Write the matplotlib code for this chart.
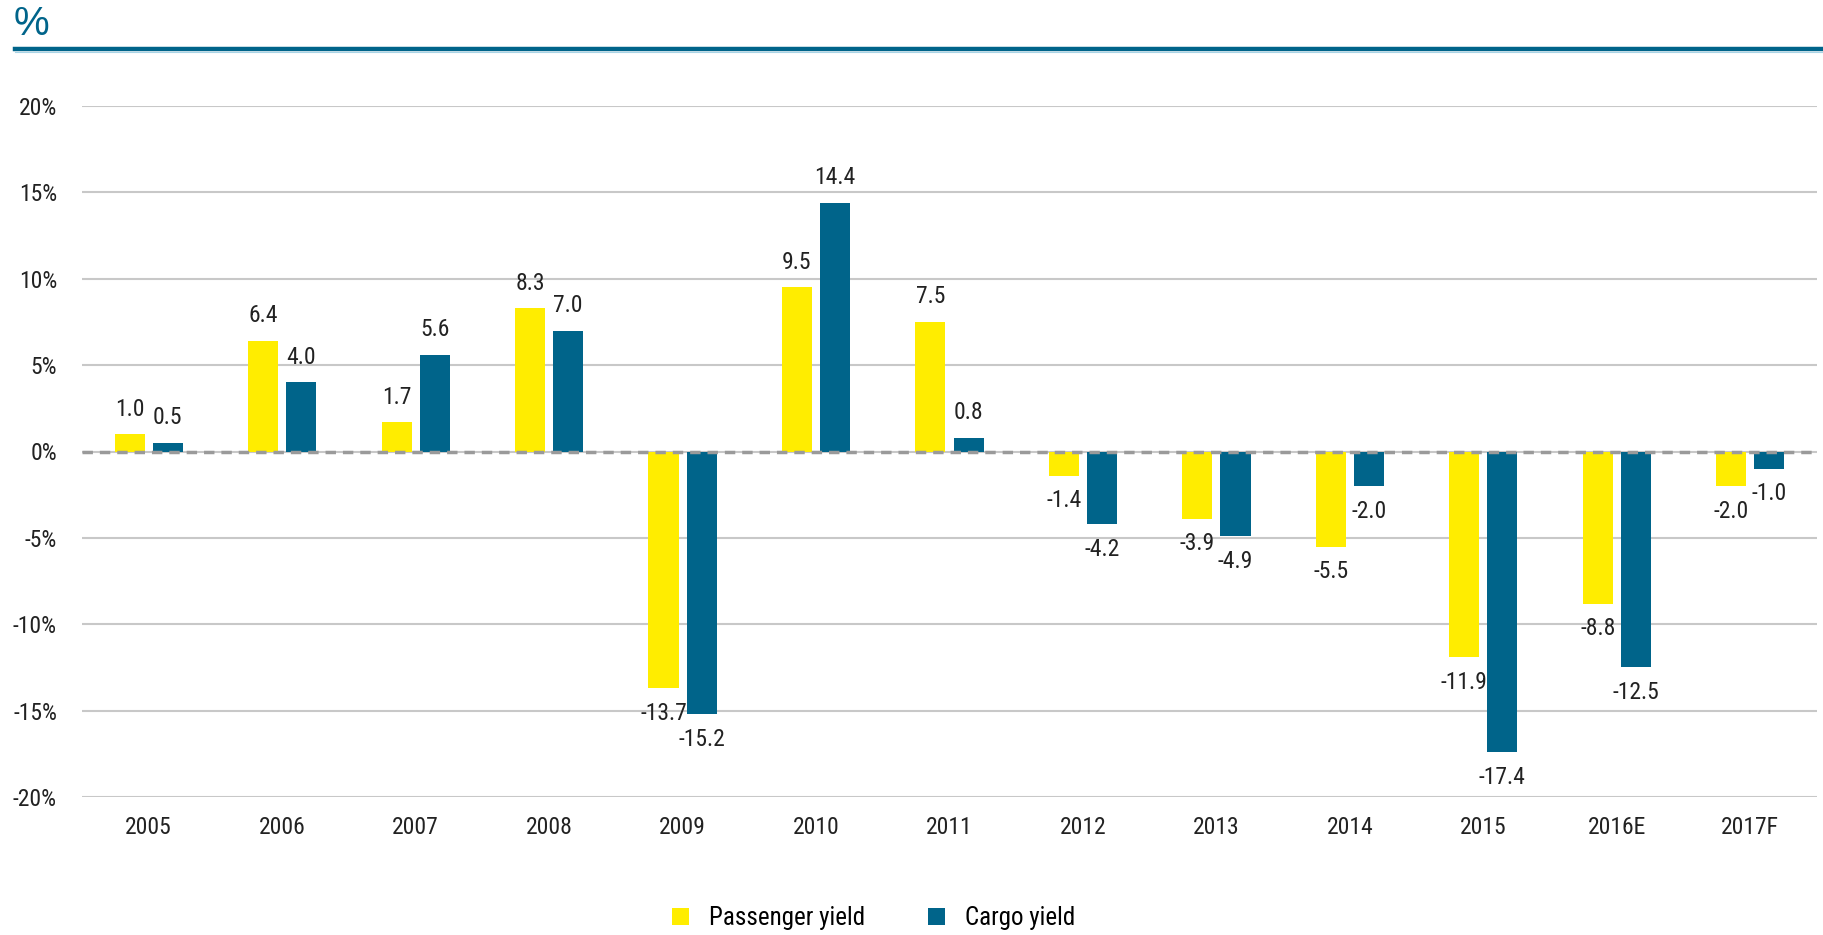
import matplotlib
matplotlib.use("Agg")
import matplotlib.pyplot as plt
from matplotlib.patches import Patch
from matplotlib.lines import Line2D
import numpy as np

categories = ["2005", "2006", "2007", "2008", "2009", "2010", "2011", "2012",
              "2013", "2014", "2015", "2016E", "2017F"]
passenger = [1.0, 6.4, 1.7, 8.3, -13.7, 9.5, 7.5, -1.4, -3.9, -5.5, -11.9, -8.8, -2.0]
cargo = [0.5, 4.0, 5.6, 7.0, -15.2, 14.4, 0.8, -4.2, -4.9, -2.0, -17.4, -12.5, -1.0]
yticks = [-20, -15, -10, -5, 0, 5, 10, 15, 20]

YELLOW = "#FFED00"
BLUE = "#00648A"
TEXT = "#222222"

FAMS = ['Roboto Condensed', 'Liberation Sans Narrow', 'Arial Narrow',
        'Open Sans Condensed', 'Liberation Sans', 'DejaVu Sans']
plt.rcParams['font.family'] = FAMS

fig = plt.figure(figsize=(18.24, 9.35), dpi=100)
ax = fig.add_axes([82/1824, 1-797/935, (1817-82)/1824, (797-106)/935])

x = np.arange(len(categories))
off = 0.143
w = 0.225
ax.bar(x - off, passenger, w, color=YELLOW, zorder=3)
ax.bar(x + off, cargo, w, color=BLUE, zorder=3)

for xs, vals in ((x - off, passenger), (x + off, cargo)):
    for xi, v in zip(xs, vals):
        dy = 18 if v >= 0 else -18
        ax.annotate(f"{v:.1f}", (xi, v), xytext=(0, dy), textcoords="offset points",
                    ha="center", va="center", fontsize=17, color=TEXT)

ax.set_xlim(-0.5, len(categories) - 0.5)
ax.set_ylim(-20, 20)
ax.set_yticks(yticks)
ax.set_yticklabels([f"{t}%" for t in yticks])
ax.set_xticks(x)
ax.set_xticklabels(categories)
ax.tick_params(axis="both", length=0, labelsize=17, colors=TEXT)
ax.tick_params(axis="y", pad=18)
ax.tick_params(axis="x", pad=14)
ax.yaxis.grid(True, color="#c8c8c8", linewidth=1.5, zorder=0)
ax.set_axisbelow(True)
ax.axhline(0, color="#9a9a9a", linewidth=2.5, linestyle=(0, (3, 2)), zorder=4)
for s in ax.spines.values():
    s.set_visible(False)

# header
fig.text(14/1824, 1-35/935, "%", fontsize=29, color=BLUE, ha="left", va="baseline",
         family=['Liberation Sans', 'DejaVu Sans'])
fig.add_artist(Line2D([15/1824, 1], [1-49/935, 1-49/935], color=BLUE, linewidth=3.2,
                      transform=fig.transFigure))
fig.add_artist(Line2D([15/1824, 1], [1-52/935, 1-52/935], color="#a8d4e6", linewidth=0.8,
                      transform=fig.transFigure))

handles = [Patch(facecolor=YELLOW, label="Passenger yield"),
           Patch(facecolor=BLUE, label="Cargo yield")]
fig.legend(handles=handles, loc="center", bbox_to_anchor=(0.479, 1-918/935), ncol=2,
           frameon=False, fontsize=18, handlelength=0.7, handleheight=0.7,
           columnspacing=2.5, handletextpad=0.8)

fig.savefig("out.png", dpi=100)
